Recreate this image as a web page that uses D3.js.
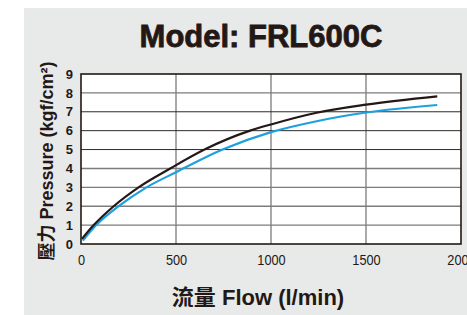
<!DOCTYPE html>
<html>
<head>
<meta charset="utf-8">
<script src="https://cdn.jsdelivr.net/npm/d3@7"></script>
<style>
  html, body { margin: 0; padding: 0; background: #fff; }
  svg { display: block; }
</style>
</head>
<body>
<svg id="chart" width="467" height="315"></svg>
<script>
// chart values
var title = "Model: FRL600C";
var xLabel = "流量 Flow (l/min)";
var yLabel = "壓力 Pressure (kgf/cm²)";
var xTicks = [0, 500, 1000, 1500, 2000];
var yTicks = [0, 1, 2, 3, 4, 5, 6, 7, 8, 9];
var darkGrid = [5, 6, 7];

// black curve
var blackFlow = [5, 67, 172, 303, 470, 650, 890, 1000, 1240, 1500, 1875];
var blackPressure = [0.27, 1, 2, 3, 4, 5, 6, 6.33, 6.95, 7.38, 7.82];

// blue curve
var blueFlow = [10, 80, 198, 345, 500, 745, 1000, 1240, 1500, 1875];
var bluePressure = [0.18, 1, 2, 3, 3.8, 5, 5.92, 6.5, 6.96, 7.36];

var svg = d3.select("#chart");
var margin = {top: 74, right: 6, bottom: 71, left: 81},
    width = 467 - margin.left - margin.right,
    height = 315 - margin.top - margin.bottom;

// grey panel
svg.append("rect")
    .attr("x", 24).attr("y", 8)
    .attr("width", 443).attr("height", 307)
    .attr("fill", "#e8e9e9");

svg.append("text")
    .attr("x", 261).attr("y", 47)
    .attr("text-anchor", "middle")
    .attr("fill", "#231815")
    .attr("stroke", "#231815")
    .attr("stroke-width", 0.8)
    .style("font", "bold 31px 'Liberation Sans', Arial, sans-serif")
    .text(title);

var g = svg.append("g")
    .attr("transform", "translate(" + margin.left + "," + margin.top + ")");

var x = d3.scaleLinear().domain([0, 2000]).range([0, width]);
var y = d3.scaleLinear().domain([0, 9]).range([height, 0]);

g.append("rect")
    .attr("width", width).attr("height", height)
    .attr("fill", "#fff");

// grid
g.selectAll(".vgrid")
    .data(xTicks.slice(1, -1))
    .enter().append("line")
    .attr("class", "vgrid")
    .attr("x1", function(d) { return x(d); })
    .attr("x2", function(d) { return x(d); })
    .attr("y1", 0).attr("y2", height)
    .attr("stroke", "#6f6f6f")
    .attr("stroke-width", 1.2);

g.selectAll(".hgrid")
    .data(yTicks.slice(1, -1))
    .enter().append("line")
    .attr("class", "hgrid")
    .attr("x1", 0).attr("x2", width)
    .attr("y1", function(d) { return y(d); })
    .attr("y2", function(d) { return y(d); })
    .attr("stroke", function(d) { return darkGrid.indexOf(d) >= 0 ? "#2e2a29" : "#7c7c7c"; })
    .attr("stroke-width", function(d) { return darkGrid.indexOf(d) >= 0 ? 1 : 1.4; });

// axes (labels only, frame drawn below)
var xAxis = g.append("g")
    .attr("transform", "translate(0," + height + ")")
    .call(d3.axisBottom(x).tickValues(xTicks).tickFormat(d3.format("d")).tickSize(0).tickPadding(10));
xAxis.select(".domain").remove();
xAxis.selectAll("text")
    .attr("fill", "#231815")
    .attr("transform", "scale(0.85,1)")
    .style("font", "15px 'Liberation Sans', Arial, sans-serif");

var yAxis = g.append("g")
    .call(d3.axisLeft(y).tickValues(yTicks).tickSize(0).tickPadding(8));
yAxis.select(".domain").remove();
yAxis.selectAll("text")
    .attr("fill", "#231815")
    .style("font", "bold 13px 'Liberation Sans', Arial, sans-serif");

// curves
var line = d3.line()
    .curve(d3.curveMonotoneX)
    .x(function(d) { return x(d[0]); })
    .y(function(d) { return y(d[1]); });

g.append("path")
    .datum(d3.zip(blueFlow, bluePressure))
    .attr("d", line)
    .attr("fill", "none")
    .attr("stroke", "#1ca0e0")
    .attr("stroke-width", 2.2);

g.append("path")
    .datum(d3.zip(blackFlow, blackPressure))
    .attr("d", line)
    .attr("fill", "none")
    .attr("stroke", "#231815")
    .attr("stroke-width", 2.2);

// frame
g.append("rect")
    .attr("width", width).attr("height", height)
    .attr("fill", "none")
    .attr("stroke", "#231815")
    .attr("stroke-width", 1.6);

// axis titles
svg.append("text")
    .attr("x", 258).attr("y", 305)
    .attr("text-anchor", "middle")
    .attr("fill", "#231815")
    .style("font", "bold 22px 'Liberation Sans', 'Noto Sans CJK TC', sans-serif")
    .text(xLabel);

svg.append("text")
    .attr("transform", "translate(53," + 161 + ") rotate(-90)")
    .attr("text-anchor", "middle")
    .attr("fill", "#231815")
    .style("font", "bold 18px 'Liberation Sans', 'Noto Sans CJK TC', sans-serif")
    .text(yLabel);
</script>
</body>
</html>
